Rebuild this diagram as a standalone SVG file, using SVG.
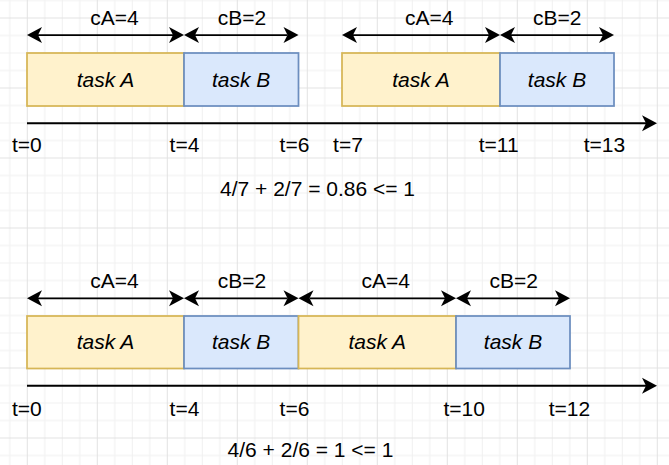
<svg xmlns="http://www.w3.org/2000/svg" width="669" height="465" viewBox="0 0 669 465">
  <style>
    text { font-family: "Liberation Sans", Arial, sans-serif; font-size: 21px; fill: #000; text-anchor: middle; }
    .task { font-style: italic; }
    .ta { fill: #fff2cc; stroke: #d6b656; stroke-width: 1.75; }
    .tb { fill: #dae8fc; stroke: #6c8ebf; stroke-width: 1.75; }
    .dim { stroke: #000; stroke-width: 1.75; fill: none; marker-start: url(#head); marker-end: url(#head); }
    .axis { stroke: #000; stroke-width: 2; fill: none; marker-end: url(#head); }
  </style>
  <defs>
    <!-- 17.5px grid, darker line every 4th cell -->
    <pattern id="grid" patternUnits="userSpaceOnUse" x="26.8" y="17.5" width="70" height="70">
      <g fill="#f0f0f0">
        <rect x="17.5" y="0" width="1" height="70"/>
        <rect x="35" y="0" width="1" height="70"/>
        <rect x="52.5" y="0" width="1" height="70"/>
        <rect x="0" y="17.5" width="70" height="1"/>
        <rect x="0" y="35" width="70" height="1"/>
        <rect x="0" y="52.5" width="70" height="1"/>
      </g>
      <g fill="#e2e2e2">
        <rect x="0" y="0" width="1" height="70"/>
        <rect x="0" y="0" width="70" height="1"/>
      </g>
    </pattern>
    <!-- classic notched arrowhead; line ends at the notch, tip 11px further -->
    <marker id="head" markerUnits="userSpaceOnUse" viewBox="-5 -9 17 18" refX="0" refY="0" markerWidth="17" markerHeight="18" orient="auto-start-reverse">
      <path d="M11,0 L-4,-8 L0,0 L-4,8 Z" fill="#000"/>
    </marker>
  </defs>

  <rect x="0" y="0" width="669" height="465" fill="#ffffff"/>
  <rect x="0" y="0" width="669" height="465" fill="url(#grid)"/>

  <!-- schedule 1: period 7 -->
  <g id="s1-taskA1"><rect class="ta" x="27" y="53" width="157" height="53"/><text class="task" x="105.5" y="87">task A</text></g>
  <g id="s1-taskB1"><rect class="tb" x="184" y="53" width="114.5" height="53"/><text class="task" x="241.2" y="87">task B</text></g>
  <g id="s1-taskA2"><rect class="ta" x="342" y="53" width="158" height="53"/><text class="task" x="421" y="87">task A</text></g>
  <g id="s1-taskB2"><rect class="tb" x="500" y="53" width="114" height="53"/><text class="task" x="557" y="87">task B</text></g>

  <g id="s1-labels">
    <text x="114.5" y="24.5">cA=4</text>
    <text x="242" y="24.5">cB=2</text>
    <text x="429.3" y="24.5">cA=4</text>
    <text x="557.3" y="24.5">cB=2</text>
    <text x="26.8" y="151.5">t=0</text>
    <text x="184.5" y="151.5">t=4</text>
    <text x="294.5" y="151.5">t=6</text>
    <text x="348" y="151.5">t=7</text>
    <text x="498.7" y="151.5">t=11</text>
    <text x="604.5" y="151.5">t=13</text>
    <text x="317.5" y="196">4/7 + 2/7 = 0.86 &lt;= 1</text>
  </g>

  <!-- schedule 2: period 6 -->
  <g id="s2-taskA1"><rect class="ta" x="27" y="316" width="157" height="52.5"/><text class="task" x="105.5" y="349">task A</text></g>
  <g id="s2-taskB1"><rect class="tb" x="184" y="316" width="114.5" height="52.5"/><text class="task" x="241.2" y="349">task B</text></g>
  <g id="s2-taskA2"><rect class="ta" x="298.5" y="316" width="157.5" height="52.5"/><text class="task" x="377.2" y="349">task A</text></g>
  <g id="s2-taskB2"><rect class="tb" x="456" y="316" width="114" height="52.5"/><text class="task" x="513" y="349">task B</text></g>

  <g id="s2-labels">
    <text x="114.5" y="287.7">cA=4</text>
    <text x="242" y="287.7">cB=2</text>
    <text x="385.8" y="287.7">cA=4</text>
    <text x="513.7" y="287.7">cB=2</text>
    <text x="26.8" y="415.5">t=0</text>
    <text x="184.5" y="415.5">t=4</text>
    <text x="294.5" y="415.5">t=6</text>
    <text x="464.2" y="415.5">t=10</text>
    <text x="569.5" y="415.5">t=12</text>
    <text x="310.5" y="456.5">4/6 + 2/6 = 1 &lt;= 1</text>
  </g>

  <g id="connectors">
    <!-- duration arrows -->
    <line class="dim" x1="38" y1="35" x2="173" y2="35"/>
    <line class="dim" x1="195" y1="35" x2="287.5" y2="35"/>
    <line class="dim" x1="353" y1="35" x2="489" y2="35"/>
    <line class="dim" x1="511" y1="35" x2="603" y2="35"/>
    <line class="dim" x1="38" y1="298.3" x2="173" y2="298.3"/>
    <line class="dim" x1="195" y1="298.3" x2="287.5" y2="298.3"/>
    <line class="dim" x1="309.5" y1="298.3" x2="445" y2="298.3"/>
    <line class="dim" x1="467" y1="298.3" x2="559" y2="298.3"/>
    <!-- time axes -->
    <line class="axis" x1="27" y1="123.3" x2="646" y2="123.3"/>
    <line class="axis" x1="27" y1="385.7" x2="646" y2="385.7"/>
  </g>
</svg>
